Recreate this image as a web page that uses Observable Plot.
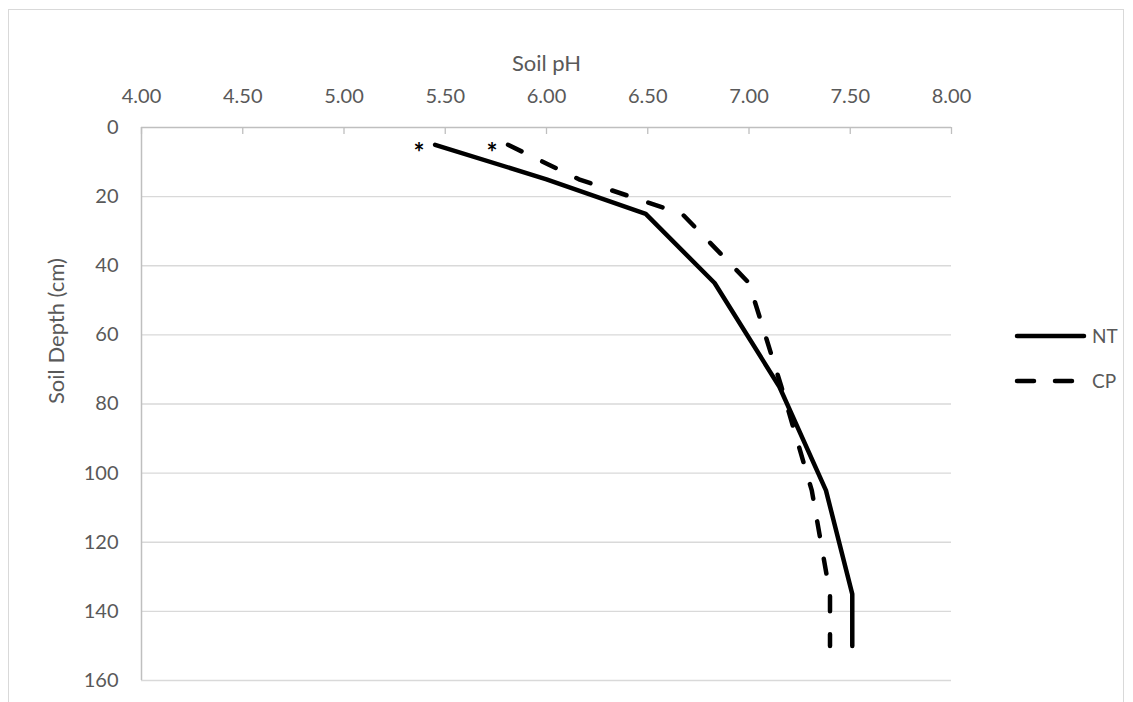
<!DOCTYPE html>
<html>
<head>
<meta charset="utf-8">
<script src="https://cdn.jsdelivr.net/npm/d3@7"></script>
<script src="https://cdn.jsdelivr.net/npm/@observablehq/plot@0.6"></script>
<style>
  html, body { margin: 0; padding: 0; background: #fff; }
  #wrap { position: relative; width: 1133px; height: 702px; overflow: hidden; font-family: Lato, "Liberation Sans", sans-serif; }
  #border { position: absolute; left: 8px; top: 9px; width: 1116px; height: 720px; border: 1px solid #d9d9d9; box-sizing: border-box; }
  #chart { position: absolute; left: 0; top: 0; }
  #legend { position: absolute; left: 1005px; top: 320px; }
</style>
</head>
<body>
<div id="wrap">
  <div id="border"></div>
  <div id="chart"></div>
  <div id="legend"></div>
</div>
<script>
// ---- data ----
const xTicks = [4.0, 4.5, 5.0, 5.5, 6.0, 6.5, 7.0, 7.5, 8.0];
const yTicks = [0, 20, 40, 60, 80, 100, 120, 140, 160];
const depths = [5, 15, 25, 45, 75, 105, 135, 150];
const ntPH   = [5.45, 6.00, 6.49, 6.83, 7.15, 7.38, 7.51, 7.51];
const cpPH   = [5.81, 6.16, 6.67, 7.00, 7.16, 7.31, 7.40, 7.40];
const seriesNames = ["NT", "CP"];
const seriesDash = {NT: null, CP: "15,23"};
const xTitle = "Soil pH";
const yTitle = "Soil Depth (cm)";
const marker = "*";

const W = 1133, H = 702;
const mL = 141, mR = 182, mT = 127, mB = 22;
const plotH = H - mT - mB;

const rows = [];
depths.forEach((d, i) => {
  rows.push({series: "NT", depth: d, ph: ntPH[i]});
  rows.push({series: "CP", depth: d, ph: cpPH[i]});
});
const firsts = seriesNames.map(s => rows.find(r => r.series === s));

const chart = Plot.plot({
  width: W, height: H,
  marginLeft: mL, marginRight: mR, marginTop: mT, marginBottom: mB,
  style: {fontFamily: "Lato, 'Liberation Sans', sans-serif", fontSize: "20px", color: "#595959", background: "transparent", overflow: "visible"},
  x: {domain: [4, 8], axis: "top", ticks: xTicks, tickFormat: d3.format(".2f"), tickSize: 0, tickPadding: 25, label: null},
  y: {domain: [0, 160], reverse: true, axis: "left", ticks: yTicks, tickSize: 0, tickPadding: 23, label: null},
  marks: [
    Plot.ruleY(yTicks.slice(1), {y: d => d, stroke: "#d9d9d9", strokeWidth: 1.3}),
    Plot.ruleY([0], {stroke: "#bfbfbf", strokeWidth: 1.5}),
    Plot.ruleX([4], {stroke: "#bfbfbf", strokeWidth: 1.5}),
    Plot.ruleX(xTicks, {x: d => d, stroke: "#bfbfbf", strokeWidth: 1.3, insetBottom: plotH - 7}),
    Plot.line(rows.filter(r => r.series === "NT"), {x: "ph", y: "depth", stroke: "#000", strokeWidth: 4.5, strokeLinejoin: "miter"}),
    Plot.line(rows.filter(r => r.series === "CP"), {x: "ph", y: "depth", stroke: "#000", strokeWidth: 4.5, strokeDasharray: seriesDash.CP, strokeLinecap: "round"}),
    Plot.text(firsts, {x: "ph", y: "depth", text: () => marker, dx: -16, dy: 9, fontSize: 26, fontWeight: "bold", fill: "#000", textAnchor: "middle"}),
    Plot.text([xTitle], {frameAnchor: "top", dy: -72, fontSize: 22, fill: "#595959"}),
    Plot.text([yTitle], {frameAnchor: "left", dx: -85, rotate: -90, fontSize: 22, fill: "#595959"})
  ]
});
document.getElementById("chart").appendChild(chart);

// ---- legend ----
const lg = d3.select("#legend").append("svg").attr("width", 128).attr("height", 80)
  .style("font-family", "Lato, 'Liberation Sans', sans-serif");
seriesNames.forEach((s, i) => {
  const y = 16 + i * 45;
  lg.append("line").attr("x1", 12).attr("x2", 79).attr("y1", y).attr("y2", y)
    .attr("stroke", "#000").attr("stroke-width", 4.5)
    .attr("stroke-linecap", "round")
    .attr("stroke-dasharray", seriesDash[s] ? "17,21" : null);
  lg.append("text").attr("x", 87).attr("y", y).attr("dy", "0.35em")
    .attr("font-size", 19).attr("fill", "#595959").text(s);
});
</script>
</body>
</html>
